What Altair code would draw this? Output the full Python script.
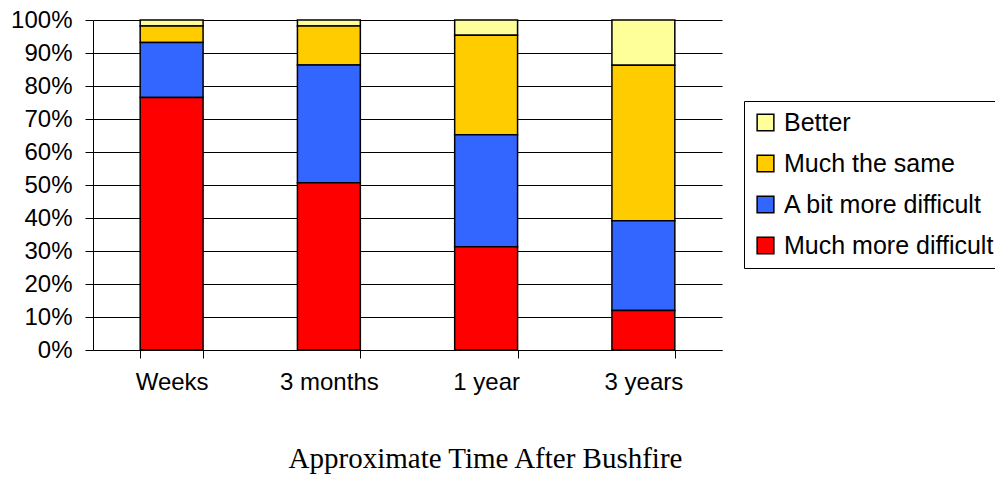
import altair as alt
import pandas as pd

periods = ["Weeks", "3 months", "1 year", "3 years"]
responses = ["Better", "Much the same", "A bit more difficult", "Much more difficult"]
colors = ["#FFFF99", "#FFCC00", "#3366FF", "#FF0000"]
stack_order = [3, 2, 1, 0]

much_more_difficult = [76.5, 50.7, 31.3, 12.0]
a_bit_more_difficult = [16.7, 35.7, 33.9, 27.2]
much_the_same = [5.0, 11.8, 30.2, 47.1]
better = [1.8, 1.8, 4.6, 13.7]

series = {
    "Better": better,
    "Much the same": much_the_same,
    "A bit more difficult": a_bit_more_difficult,
    "Much more difficult": much_more_difficult,
}

rows = []
for r, o in zip(responses, stack_order):
    for p, v in zip(periods, series[r]):
        rows.append({"period": p, "response": r, "value": v, "ord": o})
df = pd.DataFrame(rows)

chart = alt.Chart(df).mark_bar(stroke="black", strokeWidth=1.5).encode(
    x=alt.X("period:N", sort=periods,
            scale=alt.Scale(paddingInner=0.6, paddingOuter=0.3),
            axis=alt.Axis(title="Approximate Time After Bushfire", labelAngle=0,
                          tickBand="extent", labelFontSize=24, labelFont="Liberation Sans",
                          labelColor="black", labelPadding=12, tickSize=8,
                          tickColor="black", domainColor="black",
                          titleFont="Liberation Serif", titleFontSize=29,
                          titleFontWeight="normal", titleColor="black",
                          titleX=392, titleY=108, titleAlign="center",
                          titleBaseline="middle", titleAnchor="start")),
    y=alt.Y("value:Q", stack="zero",
            scale=alt.Scale(domain=[0, 100], nice=False),
            axis=alt.Axis(title=None, values=list(range(0, 101, 10)),
                          labelExpr="datum.value + '%'", labelFontSize=24,
                          labelFont="Liberation Sans", labelColor="black",
                          labelPadding=13, tickSize=8, tickColor="black",
                          domainColor="black", grid=True, gridColor="black",
                          gridOpacity=1, gridWidth=1)),
    color=alt.Color("response:N",
                    scale=alt.Scale(domain=responses, range=colors),
                    legend=alt.Legend(title=None, orient="none", legendX=651, legendY=81,
                                      symbolType="square", symbolSize=280,
                                      symbolStrokeColor="black", symbolStrokeWidth=1.5,
                                      labelFontSize=25, labelFont="Liberation Sans",
                                      labelColor="black", rowPadding=15, padding=9,
                                      labelOffset=6, strokeColor="black",
                                      fillColor="white", labelLimit=400)),
    order=alt.Order("ord:Q"),
).properties(
    width=629, height=330,
    padding={"left": 93, "top": 20, "right": 273, "bottom": 147},
    autosize=alt.AutoSizeParams(type="none"),
).configure_view(stroke=None).configure_axis(
    domainWidth=1, tickWidth=1
)

chart.save("out.html", embed_options={"renderer": "svg", "actions": False})
